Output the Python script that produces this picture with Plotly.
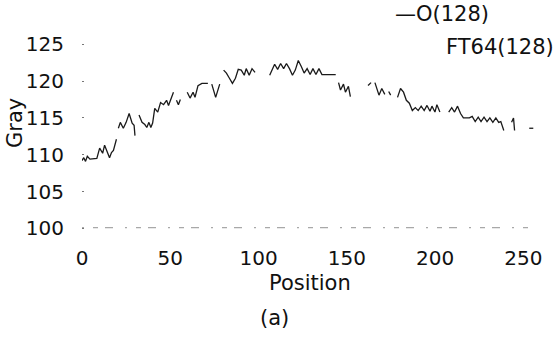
import plotly.graph_objects as go

# Gray profile along the scan line, O(128); None marks breaks in the trace
position = [
    0, 1, 2, 3, 4.5, 8.4, 10, 11.7, 12.8, 14.5, 15.6, 16.7, 17.8, 19.5, None,
    20.6, 21.7, 23.4, 25, 26.7, 28.4, 29.5, 30, None,
    32.3, 34, 35.6, 36.7, 37.9, 39, 40, 41.2, 42.9, 44.5, 46.2, 47.9, 49, 51.8, None,
    53.5, 54.6, 55.7, None,
    59.6, 61.2, 62.9, 64, 65.7, 67.9, 71.3, None,
    73.5, 75.7, 78, None,
    80.2, 81.8, 83.5, 85.2, 86.9, 88.5, 90.2, 91.9, 93, 94.7, 96.3, 98, None,
    106.3, 107.5, 109.1, 110.8, 112.5, 114.2, 115.8, 117.5, 119.2, 120.8, 122.5,
    124.2, 125.8, 127.5, 129.2, 130.8, 132.5, 134.2, 135.9, 143.7, None,
    145.3, 146.4, 148.1, 149.2, 150.9, 152, None,
    162, 163.7, None,
    165.9, 168.2, 169.8, 171.5, None,
    173.7, 174.8, None,
    178.7, 180.4, 182.1, 183.7, 185.4, 187.1, 188.8, 190.4, 192.1, 193.8, 195.4,
    197.1, 198.2, 199.9, 201, 202.7, None,
    207.7, 209.4, 211, 212.7, 214.4, 216, 219.4, 221, 222.7, 224.4, 226, 227.7,
    229.4, 231, 232.7, 234.4, 236, 237.2, 238.9, None,
    243.3, 244.4, 245, None,
    253.3, 255.6,
]
gray_o128 = [
    109.2, 109.6, 109.1, 109.8, 109.4, 109.5, 110.9, 110.2, 111.3, 110.3, 109.6, 110.3, 110.6, 112.1, None,
    113.6, 114.4, 113.6, 114.4, 115.6, 114.3, 114.0, 112.6, None,
    115.4, 114.4, 114.1, 113.7, 114.4, 113.7, 114.3, 116.3, 115.8, 117.1, 116.8, 117.4, 116.7, 118.5, None,
    117.4, 116.8, 117.5, None,
    118.5, 117.7, 118.5, 117.8, 119.4, 119.7, 119.7, None,
    119.6, 117.8, 119.6, None,
    121.5, 121.1, 120.4, 119.7, 120.4, 121.6, 121.5, 120.8, 121.7, 120.8, 121.7, 121.2, None,
    120.8, 121.5, 122.3, 121.6, 122.4, 121.7, 122.4, 121.7, 120.8, 121.5, 122.8,
    122.0, 121.1, 121.7, 120.9, 121.7, 120.9, 121.7, 120.9, 120.9, None,
    119.8, 118.8, 119.6, 118.5, 119.3, 117.9, None,
    119.4, 119.8, None,
    119.8, 118.1, 119.0, 118.2, None,
    118.6, 118.1, None,
    117.8, 119.0, 118.5, 117.4, 117.0, 116.0, 116.4, 116.0, 116.6, 116.0, 116.7,
    115.9, 116.6, 115.8, 116.8, 115.8, None,
    115.8, 116.4, 115.8, 116.6, 115.6, 115.0, 115.0, 115.2, 114.5, 115.1, 114.5, 115.1,
    114.5, 115.0, 114.4, 115.0, 114.4, 114.5, 113.3, None,
    114.4, 115.0, 113.3, None,
    113.6, 113.6,
]

# FT64(128) profile: faint trace lying along the bottom of the range
ft_position = [0, 40, 80, 120, 160, 200, 255]
gray_ft64 = [100.1, 100.1, 100.1, 100.1, 100.1, 100.1, 100.1]

x_ticks = [0, 50, 100, 150, 200, 250]
y_ticks = [100, 105, 110, 115, 120, 125]

FONT = "DejaVu Sans, Arial, sans-serif"
TEXT = dict(family=FONT, size=21, color="#111")
TICK = dict(family=FONT, size=20, color="#111")

fig = go.Figure()
fig.add_trace(go.Scatter(
    x=ft_position, y=gray_ft64, mode="lines", name="FT64(128)",
    line=dict(color="#a8a8a8", width=1.1, dash="2px,9px,5px,7px,8px,12px"),
    connectgaps=False, showlegend=False,
))
fig.add_trace(go.Scatter(
    x=position, y=gray_o128, mode="lines", name="O(128)",
    line=dict(color="#1a1a1a", width=1.3),
    connectgaps=False, showlegend=False,
))

fig.update_layout(
    width=554, height=352,
    margin=dict(l=82, r=12, t=37, b=120),
    paper_bgcolor="white", plot_bgcolor="white",
    font=TEXT,
    showlegend=False,
    xaxis=dict(
        range=[0, 256], tickvals=x_ticks, ticktext=[str(v) for v in x_ticks],
        showgrid=False, zeroline=False, showline=False,
        ticks="", ticklabelstandoff=12, tickfont=TICK,
    ),
    yaxis=dict(
        range=[99.5, 126], tickvals=y_ticks, ticktext=[str(v) for v in y_ticks],
        showgrid=False, zeroline=False, showline=False,
        ticks="inside", ticklen=2, tickcolor="#777", tickwidth=1,
        ticklabelstandoff=17, tickfont=TICK,
    ),
    annotations=[
        dict(text="Gray", xref="paper", yref="paper", x=-0.148, y=0.56,
             textangle=-90, showarrow=False, xanchor="center", yanchor="middle",
             font=TEXT),
        dict(text="Position", xref="paper", yref="paper", x=0.505, y=-0.262,
             showarrow=False, xanchor="center", yanchor="middle", font=TEXT),
        dict(text="(a)", xref="paper", yref="paper", x=0.425, y=-0.44,
             showarrow=False, xanchor="center", yanchor="middle", font=TEXT),
        dict(text="\u2014O(128)", xref="paper", yref="paper", x=0.687, y=1.118,
             showarrow=False, xanchor="left", yanchor="middle", font=TEXT),
        dict(text="FT64(128)", xref="paper", yref="paper", x=0.80, y=0.948,
             showarrow=False, xanchor="left", yanchor="middle", font=TEXT),
    ],
)

fig.write_html("out.html")
